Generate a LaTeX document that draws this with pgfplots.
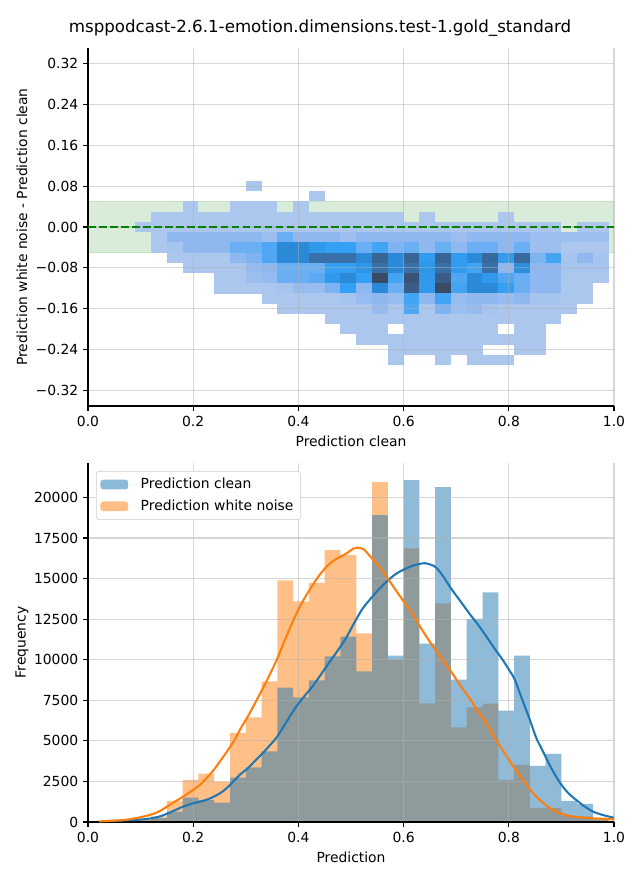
\documentclass[border=0pt]{standalone}
\usepackage{fontspec}
\setmainfont{DejaVu Sans}
\usepackage{pgfplots}
\pgfplotsset{compat=1.18}

\definecolor{cblue}{HTML}{1F77B4}
\definecolor{corange}{HTML}{FF7F0E}
\definecolor{mplgreen}{RGB}{0,128,0}
\definecolor{gridc}{HTML}{B0B0B0}
\definecolor{legc}{HTML}{CCCCCC}

% one 2d-histogram cell: 0.03 x 0.02 in data units for a 378.72pt x 257.76pt axis
\pgfdeclareplotmark{cell}{\pgfpathrectangle{\pgfpoint{-5.70pt}{-3.70pt}}{\pgfpoint{11.40pt}{7.40pt}}\pgfusepathqfill}

\pgfplotsset{
  mpl/.style={
    scale only axis, width=378.72pt,
    xmin=0, xmax=1,
    axis x line*=bottom, axis y line*=left,
    axis line style={line width=0.8pt, black},
    tick align=outside, major tick length=3.5pt,
    tick style={line width=0.8pt, black},
    grid=major,
    major grid style={line width=0.8pt, gridc, opacity=0.5},
    tick label style={font=\fontsize{10}{12}\selectfont},
    label style={font=\fontsize{10}{12}\selectfont},
    every axis x label/.style={at={(axis description cs:0.5,0)}, yshift=-25.2pt, anchor=center},
    every axis y label/.style={at={(axis description cs:0,0.5)}, xshift=-47.5pt, rotate=90, anchor=center},
    set layers=axis on top,
    xtick={0,0.2,0.4,0.6,0.8,1}, xticklabels={0.0,0.2,0.4,0.6,0.8,1.0},
  }
}

\begin{document}
\begin{tikzpicture}
\path (0,0) rectangle (460.8pt,633.6pt);

\node[font=\fontsize{12}{14}\selectfont] at (230.4pt,613.4pt)
  {msppodcast-2.6.1-emotion.dimensions.test-1.gold\_standard};

% ---------------- top: difference vs clean ----------------
\begin{axis}[mpl,
  at={(63.36pt,341.28pt)}, anchor=south west,
  height=257.76pt,
  ymin=-0.35, ymax=0.35,
  ytick={-0.32,-0.24,-0.16,-0.08,0,0.08,0.16,0.24,0.32},
  yticklabels={−0.32,−0.24,−0.16,−0.08,0.00,0.08,0.16,0.24,0.32},
  xlabel={Prediction clean},
  ylabel={Prediction white noise - Prediction clean},
  colormap={cellmap}{rgb255(1)=(171,199,238) rgb255(2)=(143,184,240)
    rgb255(3)=(106,174,243) rgb255(4)=(51,160,245) rgb255(5)=(43,138,216)
    rgb255(6)=(56,112,170) rgb255(7)=(58,74,101)},
  point meta min=1, point meta max=7,
]
\addplot[draw=mplgreen, draw opacity=0.15, fill=mplgreen, fill opacity=0.15]
  coordinates {(0,-0.05) (0,0.05) (1,0.05) (1,-0.05) (0,-0.05)};

\addplot[scatter, only marks, mark=cell, point meta=explicit,
  scatter/use mapped color={draw=none, fill=mapped color}]
  table[x=x, y=y, meta=c] {
x y c
0.315 0.08 1
0.435 0.06 1
0.195 0.04 1
0.285 0.04 1
0.315 0.04 1
0.345 0.04 1
0.405 0.04 1
0.135 0.02 1
0.165 0.02 1
0.195 0.02 1
0.225 0.02 1
0.255 0.02 1
0.285 0.02 1
0.315 0.02 1
0.345 0.02 1
0.375 0.02 1
0.405 0.02 1
0.435 0.02 1
0.465 0.02 1
0.495 0.02 1
0.525 0.02 1
0.555 0.02 1
0.585 0.02 1
0.645 0.02 1
0.795 0.02 1
0.105 0.00 1
0.135 0.00 1
0.165 0.00 1
0.195 0.00 1
0.225 0.00 1
0.255 0.00 1
0.285 0.00 1
0.315 0.00 1
0.345 0.00 1
0.375 0.00 1
0.405 0.00 1
0.435 0.00 1
0.465 0.00 1
0.495 0.00 1
0.525 0.00 1
0.555 0.00 1
0.585 0.00 1
0.615 0.00 1
0.645 0.00 1
0.675 0.00 1
0.705 0.00 1
0.735 0.00 1
0.765 0.00 1
0.795 0.00 1
0.825 0.00 1
0.855 0.00 1
0.885 0.00 1
0.945 0.00 1
0.975 0.00 1
0.135 -0.02 1
0.165 -0.02 2
0.195 -0.02 2
0.225 -0.02 2
0.255 -0.02 2
0.285 -0.02 2
0.315 -0.02 2
0.345 -0.02 1.5
0.375 -0.02 3
0.405 -0.02 2
0.435 -0.02 2
0.465 -0.02 2
0.495 -0.02 1.5
0.525 -0.02 2
0.555 -0.02 2
0.585 -0.02 2
0.615 -0.02 2
0.645 -0.02 2
0.675 -0.02 2
0.705 -0.02 1.5
0.735 -0.02 2
0.765 -0.02 2
0.795 -0.02 2
0.825 -0.02 2
0.855 -0.02 1.5
0.885 -0.02 1.5
0.915 -0.02 1.5
0.945 -0.02 1.5
0.975 -0.02 1.5
0.135 -0.04 1
0.165 -0.04 1.2
0.195 -0.04 2
0.225 -0.04 2
0.255 -0.04 2
0.285 -0.04 3
0.315 -0.04 3
0.345 -0.04 3.5
0.375 -0.04 5
0.405 -0.04 5
0.435 -0.04 4.3
0.465 -0.04 4
0.495 -0.04 4
0.525 -0.04 3
0.555 -0.04 3.7
0.585 -0.04 2.5
0.615 -0.04 3
0.645 -0.04 2
0.675 -0.04 3
0.705 -0.04 2
0.735 -0.04 3
0.765 -0.04 3
0.795 -0.04 2
0.825 -0.04 3
0.855 -0.04 1.5
0.885 -0.04 1.5
0.915 -0.04 1
0.945 -0.04 1
0.975 -0.04 1
0.165 -0.06 1
0.195 -0.06 1
0.225 -0.06 1
0.255 -0.06 1
0.285 -0.06 2
0.315 -0.06 2.5
0.345 -0.06 3.5
0.375 -0.06 5
0.405 -0.06 5
0.435 -0.06 6
0.465 -0.06 6
0.495 -0.06 6
0.525 -0.06 5
0.555 -0.06 6.3
0.585 -0.06 5
0.615 -0.06 6.3
0.645 -0.06 4.2
0.675 -0.06 6.3
0.705 -0.06 4.2
0.735 -0.06 5
0.765 -0.06 6.2
0.795 -0.06 4.2
0.825 -0.06 6.2
0.855 -0.06 2.5
0.885 -0.06 3.7
0.915 -0.06 1.2
0.945 -0.06 2
0.975 -0.06 1.2
0.195 -0.08 1
0.225 -0.08 1
0.255 -0.08 1
0.285 -0.08 1
0.315 -0.08 1.8
0.345 -0.08 2
0.375 -0.08 3
0.405 -0.08 3
0.435 -0.08 3
0.465 -0.08 4
0.495 -0.08 4
0.525 -0.08 4.5
0.555 -0.08 6
0.585 -0.08 5
0.615 -0.08 6
0.645 -0.08 4.5
0.675 -0.08 6
0.705 -0.08 4.2
0.735 -0.08 3.7
0.765 -0.08 6
0.795 -0.08 2
0.825 -0.08 4.8
0.855 -0.08 2
0.885 -0.08 2
0.915 -0.08 1.2
0.945 -0.08 1.2
0.975 -0.08 1.2
0.255 -0.10 1
0.285 -0.10 1
0.315 -0.10 1.5
0.345 -0.10 1.8
0.375 -0.10 3
0.405 -0.10 3
0.435 -0.10 3.3
0.465 -0.10 4.3
0.495 -0.10 5
0.525 -0.10 4
0.555 -0.10 7
0.585 -0.10 3.7
0.615 -0.10 6.8
0.645 -0.10 4.3
0.675 -0.10 6.5
0.705 -0.10 3.5
0.735 -0.10 5
0.765 -0.10 4.3
0.795 -0.10 3.5
0.825 -0.10 3
0.855 -0.10 2
0.885 -0.10 2
0.915 -0.10 1
0.945 -0.10 1
0.975 -0.10 1
0.255 -0.12 1
0.285 -0.12 1
0.315 -0.12 1
0.345 -0.12 1
0.375 -0.12 1.2
0.405 -0.12 1.7
0.435 -0.12 1.7
0.465 -0.12 2.5
0.495 -0.12 4
0.525 -0.12 2
0.555 -0.12 5
0.585 -0.12 3
0.615 -0.12 6.5
0.645 -0.12 4.3
0.675 -0.12 7
0.705 -0.12 3.7
0.735 -0.12 5
0.765 -0.12 5
0.795 -0.12 4
0.825 -0.12 3
0.855 -0.12 2
0.885 -0.12 2
0.915 -0.12 1
0.945 -0.12 1
0.345 -0.14 1
0.375 -0.14 1
0.405 -0.14 1
0.435 -0.14 1
0.465 -0.14 1
0.495 -0.14 1.2
0.525 -0.14 1.7
0.555 -0.14 2
0.585 -0.14 1.7
0.615 -0.14 3.7
0.645 -0.14 2
0.675 -0.14 3.7
0.705 -0.14 1.7
0.735 -0.14 2
0.765 -0.14 2
0.795 -0.14 1.7
0.825 -0.14 2
0.855 -0.14 1.2
0.885 -0.14 1.2
0.915 -0.14 1
0.945 -0.14 1
0.375 -0.16 1
0.405 -0.16 1
0.435 -0.16 1
0.465 -0.16 1
0.495 -0.16 1
0.525 -0.16 1
0.555 -0.16 1.8
0.585 -0.16 1
0.615 -0.16 3.5
0.645 -0.16 1
0.675 -0.16 2.5
0.705 -0.16 1.5
0.735 -0.16 1.8
0.765 -0.16 1.2
0.795 -0.16 1
0.825 -0.16 1
0.855 -0.16 1
0.885 -0.16 1
0.915 -0.16 1
0.465 -0.18 1
0.495 -0.18 1
0.525 -0.18 1
0.555 -0.18 1
0.585 -0.18 1
0.615 -0.18 1
0.645 -0.18 1
0.675 -0.18 1
0.705 -0.18 1
0.735 -0.18 1
0.765 -0.18 1
0.795 -0.18 1
0.825 -0.18 1
0.855 -0.18 1
0.885 -0.18 1
0.495 -0.20 1
0.525 -0.20 1
0.555 -0.20 1
0.615 -0.20 1
0.645 -0.20 1
0.675 -0.20 1
0.705 -0.20 1
0.735 -0.20 1
0.765 -0.20 1
0.825 -0.20 1
0.855 -0.20 1
0.525 -0.22 1
0.555 -0.22 1
0.585 -0.22 1
0.615 -0.22 1
0.645 -0.22 1
0.675 -0.22 1
0.705 -0.22 1
0.735 -0.22 1
0.765 -0.22 1
0.795 -0.22 1
0.825 -0.22 1
0.855 -0.22 1
0.585 -0.24 1
0.615 -0.24 1
0.645 -0.24 1
0.675 -0.24 1
0.705 -0.24 1
0.735 -0.24 1
0.825 -0.24 1
0.855 -0.24 1
0.585 -0.26 1
0.675 -0.26 1
0.735 -0.26 1
0.765 -0.26 1
0.795 -0.26 1
};

\addplot[mplgreen, line width=1.5pt, dash pattern=on 5.55pt off 2.4pt,
  on layer=axis foreground] coordinates {(0,0) (1,0)};
\end{axis}

% ---------------- bottom: histograms ----------------
\begin{axis}[mpl,
  at={(63.36pt,41.76pt)}, anchor=south west,
  height=258.48pt,
  ymin=0, ymax=22124,
  ytick={0,2500,5000,7500,10000,12500,15000,17500,20000},
  yticklabels={0,2500,5000,7500,10000,12500,15000,17500,20000},
  scaled y ticks=false,
  xlabel={Prediction},
  ylabel={Frequency},
  legend cell align=left,
  legend image code/.code={\fill[#1] (0pt,-3.5pt) rectangle (20pt,3.5pt);
    \path (0pt,0pt) -- (27pt,0pt);},
  legend style={at={(0,1)}, anchor=north west, xshift=5.76pt, yshift=-5.76pt,
    draw=legc, fill=white, rounded corners=2pt,
    font=\fontsize{10}{12}\selectfont, row sep=2.6pt, inner ysep=3pt},
]
\addlegendimage{fill=cblue, fill opacity=0.5, draw=none}
\addlegendentry{Prediction clean}
\addlegendimage{fill=corange, fill opacity=0.5, draw=none}
\addlegendentry{Prediction white noise}

% white noise histogram (bins of width 0.03, left edges)
\addplot[const plot, fill=corange, fill opacity=0.5, draw=none, forget plot] coordinates {
(0.00,0) (0.03,60) (0.06,50) (0.09,200) (0.12,350) (0.15,1300) (0.18,2600)
(0.21,2985) (0.24,2490) (0.27,5500) (0.30,6445) (0.33,8670) (0.36,14890)
(0.39,13600) (0.42,14730) (0.45,16750) (0.48,16440) (0.51,11620) (0.54,20950)
(0.57,10010) (0.60,16870) (0.63,7310) (0.66,13470) (0.69,5830) (0.72,7065)
(0.75,7290) (0.78,2595) (0.81,3520) (0.84,865) (0.87,865) (0.90,370)
(0.93,330) (0.96,150) (0.99,150)
} \closedcycle;

% clean histogram
\addplot[const plot, fill=cblue, fill opacity=0.5, draw=none, forget plot] coordinates {
(0.00,0) (0.03,30) (0.06,40) (0.09,100) (0.12,250) (0.15,640) (0.18,1500)
(0.21,1360) (0.24,1190) (0.27,2740) (0.30,3360) (0.33,4345) (0.36,8280)
(0.39,7680) (0.42,8730) (0.45,10200) (0.48,11430) (0.51,9290) (0.54,18910)
(0.57,10260) (0.60,21070) (0.63,11000) (0.66,20640) (0.69,8775) (0.72,12525)
(0.75,14150) (0.78,6860) (0.81,10260) (0.84,3460) (0.87,4200) (0.90,1300)
(0.93,1112) (0.96,250) (0.99,250)
} \closedcycle;

% kde clean
\addplot[cblue, line width=1.5pt, smooth, on layer=axis foreground, forget plot] coordinates {
(0.038,60) (0.06,85) (0.089,124) (0.11,180) (0.127,270) (0.14,380) (0.152,535)
(0.165,720) (0.181,950) (0.200,1150) (0.215,1270) (0.228,1400) (0.24,1580)
(0.253,1810) (0.266,2150) (0.279,2595) (0.29,2950) (0.304,3315) (0.318,3780)
(0.331,4200) (0.345,4700) (0.359,5230) (0.376,6100) (0.394,7025) (0.41,7700)
(0.426,8320) (0.442,9050) (0.458,9800) (0.474,10530) (0.489,11250) (0.505,12200)
(0.521,13100) (0.537,13750) (0.553,14340) (0.568,14820) (0.584,15260) (0.60,15550)
(0.616,15780) (0.63,15900) (0.641,15950) (0.652,15850) (0.662,15680) (0.675,15150)
(0.690,14400) (0.707,13650) (0.725,12850) (0.741,12180) (0.757,11450) (0.772,10730)
(0.788,10010) (0.80,9400) (0.811,8800) (0.826,7500) (0.84,6300) (0.852,5200)
(0.865,4350) (0.877,3550) (0.89,2800) (0.902,2200) (0.915,1720) (0.928,1360)
(0.944,960) (0.960,640) (0.98,420) (1.0,260)
};

% kde white noise
\addplot[corange, line width=1.5pt, smooth, on layer=axis foreground, forget plot] coordinates {
(0.021,40) (0.05,80) (0.07,130) (0.089,225) (0.11,370) (0.127,535) (0.14,740)
(0.152,990) (0.165,1250) (0.181,1565) (0.200,1980) (0.215,2350) (0.228,2800)
(0.24,3250) (0.253,3830) (0.266,4430) (0.279,5070) (0.29,5750) (0.304,6510)
(0.318,7350) (0.331,8150) (0.345,9050) (0.359,10010) (0.376,11350) (0.394,12690)
(0.41,13700) (0.426,14540) (0.442,15300) (0.458,15880) (0.474,16250) (0.489,16500)
(0.505,16850) (0.515,16900) (0.525,16780) (0.537,16350) (0.553,15780) (0.568,15100)
(0.584,14340) (0.60,13600) (0.616,12900) (0.632,12000) (0.648,11200) (0.662,10550)
(0.675,9950) (0.690,9290) (0.707,8450) (0.725,7640) (0.741,6850) (0.757,6100)
(0.772,5250) (0.788,4450) (0.804,3650) (0.820,2900) (0.836,2200) (0.852,1565)
(0.868,1100) (0.884,740) (0.90,520) (0.915,370) (0.94,280) (0.960,225)
(0.98,190) (1.0,165)
};
\end{axis}
\end{tikzpicture}
\end{document}
